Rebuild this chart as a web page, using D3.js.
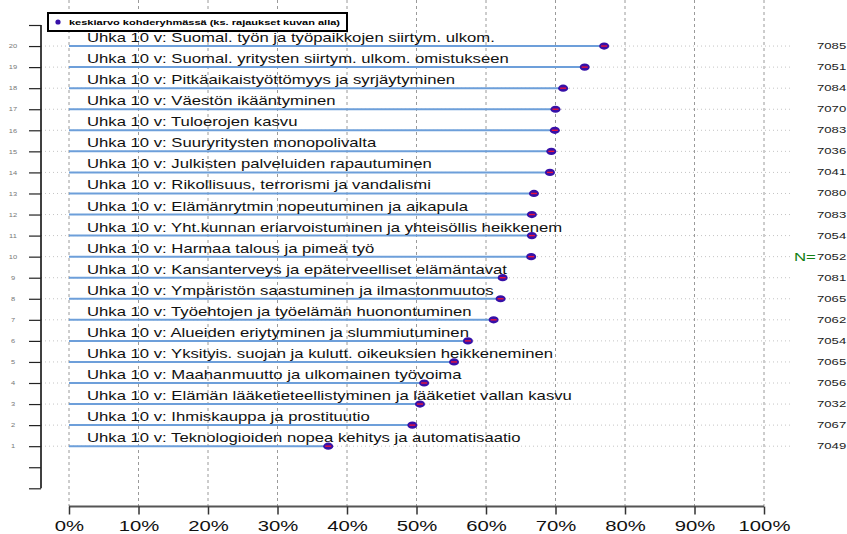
<!DOCTYPE html>
<html><head><meta charset="utf-8">
<script src="https://cdn.jsdelivr.net/npm/d3@7"></script>
<style>body{margin:0;background:#fff}svg{display:block}text{font-family:"Liberation Sans",Arial,Helvetica,sans-serif}</style>
</head><body><svg id="c" width="847" height="534"></svg>
<script>
// rows listed from top (position 20) to bottom (position 1)
const labels = [
 "Uhka 10 v: Suomal. työn ja työpaikkojen siirtym. ulkom.",
 "Uhka 10 v: Suomal. yritysten siirtym. ulkom. omistukseen",
 "Uhka 10 v: Pitkäaikaistyöttömyys ja syrjäytyminen",
 "Uhka 10 v: Väestön ikääntyminen",
 "Uhka 10 v: Tuloerojen kasvu",
 "Uhka 10 v: Suuryritysten monopolivalta",
 "Uhka 10 v: Julkisten palveluiden rapautuminen",
 "Uhka 10 v: Rikollisuus, terrorismi ja vandalismi",
 "Uhka 10 v: Elämänrytmin nopeutuminen ja aikapula",
 "Uhka 10 v: Yht.kunnan eriarvoistuminen ja yhteisöllis heikkenem",
 "Uhka 10 v: Harmaa talous ja pimeä työ",
 "Uhka 10 v: Kansanterveys ja epäterveelliset elämäntavat",
 "Uhka 10 v: Ympäristön saastuminen ja ilmastonmuutos",
 "Uhka 10 v: Työehtojen ja työelämän huonontuminen",
 "Uhka 10 v: Alueiden eriytyminen ja slummiutuminen",
 "Uhka 10 v: Yksityis. suojan ja kulutt. oikeuksien heikkeneminen",
 "Uhka 10 v: Maahanmuutto ja ulkomainen työvoima",
 "Uhka 10 v: Elämän lääketieteellistyminen ja lääketiet vallan kasvu",
 "Uhka 10 v: Ihmiskauppa ja prostituutio",
 "Uhka 10 v: Teknologioiden nopea kehitys ja automatisaatio"
];
const positions = [20,19,18,17,16,15,14,13,12,11,10,9,8,7,6,5,4,3,2,1];
const means = [0.770,0.742,0.711,0.700,0.699,0.694,0.692,0.669,0.666,0.666,0.665,0.624,0.621,0.611,0.574,0.554,0.511,0.505,0.494,0.373];
const nValues = [7085,7051,7084,7070,7083,7036,7041,7080,7083,7054,7052,7081,7065,7062,7054,7065,7056,7032,7067,7049];
const xTicks = [0,0.1,0.2,0.3,0.4,0.5,0.6,0.7,0.8,0.9,1.0];
const yTicks = d3.range(-1,22);
const legendText = "keskiarvo kohderyhmässä (ks. rajaukset kuvan alla)";
const nPrefix = "N=";
const nPrefixRow = 10;

const svg = d3.select("#c");
const x = d3.scaleLinear().domain([0,1]).range([69,764]);
const y = d3.scaleLinear().domain([-1,21]).range([488.3,25]);

function stretched(sel, sx){
  sel.each(function(){
    const t = d3.select(this);
    const tx = +t.attr("data-x"), ty = +t.attr("data-y");
    t.attr("transform", `translate(${tx},${ty}) scale(${sx},1)`);
  });
}

// vertical dashed grid
svg.append("g").selectAll("line").data(xTicks).join("line")
  .attr("x1", d=>x(d)).attr("x2", d=>x(d)).attr("y1", 0).attr("y2", 506)
  .attr("stroke", "#9a9a9a").attr("stroke-width", 1).attr("stroke-dasharray", "3,3");

// horizontal dotted lines
svg.append("g").selectAll("line").data(positions).join("line")
  .attr("x1", 41).attr("x2", 791).attr("y1", d=>y(d)).attr("y2", d=>y(d))
  .attr("stroke", "#c4c4c4").attr("stroke-width", 1).attr("stroke-dasharray", "1,3");

// left axis
const ga = svg.append("g").attr("transform","translate(41,0)")
  .call(d3.axisLeft(y).tickValues(yTicks).tickSize(12).tickFormat(d=> (d>=1 && d<=20) ? String(d) : ""));
ga.select(".domain").attr("d", `M0,${y(21)}V${y(-1)}`).attr("stroke","#000").attr("stroke-width",1.5);
ga.selectAll(".tick line").attr("stroke","#222").attr("stroke-width",1.2);
ga.selectAll(".tick text").attr("dy","0.35em").attr("font-size",5).attr("fill","#777").attr("text-anchor","middle")
  .attr("transform","scale(1.5,1)").attr("x",-28/1.5);

// blue stems
svg.append("g").selectAll("line").data(means).join("line")
  .attr("x1", x(0)).attr("x2", d=>x(d))
  .attr("y1", (d,i)=>y(positions[i])).attr("y2", (d,i)=>y(positions[i]))
  .attr("stroke", "#6d9fda").attr("stroke-width", 2);

// row labels
svg.append("g").selectAll("text").data(labels).join("text")
  .attr("data-x", 87).attr("data-y", (d,i)=>y(positions[i]) - 4)
  .attr("font-size", 12.5).attr("fill","#111").text(d=>d)
  .call(stretched, 1.335);

// points
const gp = svg.append("g");
gp.selectAll("ellipse").data(means).join("ellipse")
  .attr("cx", d=>x(d)).attr("cy", (d,i)=>y(positions[i]))
  .attr("rx", 5).attr("ry", 3.6).attr("fill", "#3610a8");
gp.selectAll("line").data(means).join("line")
  .attr("x1", d=>x(d)-3).attr("x2", d=>x(d)+3)
  .attr("y1", (d,i)=>y(positions[i])).attr("y2", (d,i)=>y(positions[i]))
  .attr("stroke", "#e8143c").attr("stroke-width", 1.4);

// N values
svg.append("g").selectAll("text").data(nValues).join("text")
  .attr("data-x", 817).attr("data-y", (d,i)=>y(positions[i]) + 3)
  .attr("font-size", 8.2).attr("fill","#222").text(d=>d)
  .call(stretched, 1.6);
svg.append("text").attr("data-x", 794).attr("data-y", y(nPrefixRow) + 4)
  .attr("font-size", 10.5).attr("fill","#128012").text(nPrefix)
  .call(stretched, 1.6);

// bottom axis
const gx = svg.append("g").attr("transform","translate(0,506.5)")
  .call(d3.axisBottom(x).tickValues(xTicks).tickSize(8).tickFormat(d3.format(".0%")));
gx.select(".domain").attr("d", `M${x(0)},0H${x(1)}`).attr("stroke","#555").attr("stroke-width",2);
gx.selectAll(".tick line").attr("stroke","#333").attr("stroke-width",1.5);
gx.selectAll(".tick text").attr("y",null).attr("dy",null)
  .attr("font-size",14).attr("fill","#111").attr("text-anchor","middle")
  .attr("transform","translate(0,24.5) scale(1.45,1)");

// legend
const lg = svg.append("g");
lg.append("rect").attr("x",48).attr("y",13).attr("width",299).attr("height",18)
  .attr("fill","#fff").attr("stroke","#000").attr("stroke-width",2);
lg.append("circle").attr("cx",58).attr("cy",22).attr("r",2.6).attr("fill","#3610a8");
lg.append("text").attr("x",69).attr("y",25).attr("font-size",7.5).attr("font-weight","bold")
  .attr("fill","#000").attr("textLength",271).attr("lengthAdjust","spacingAndGlyphs").text(legendText);
</script></body></html>
